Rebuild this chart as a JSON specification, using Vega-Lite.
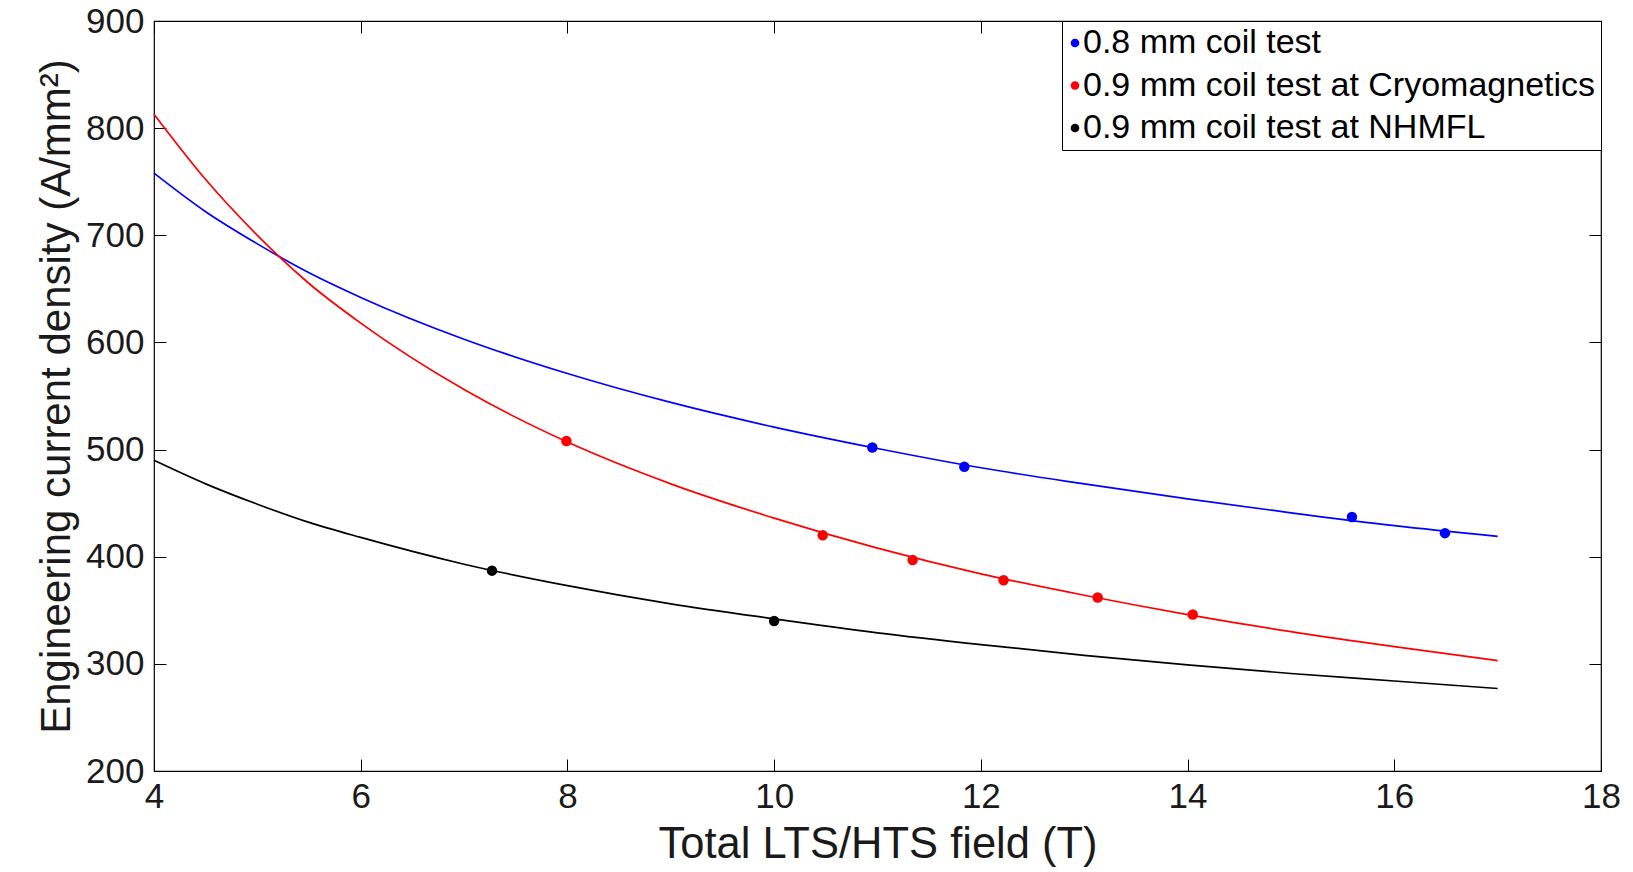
{
  "$schema": "https://vega.github.io/schema/vega-lite/v6.json",
  "autosize": {"type": "none"},
  "width": 1447,
  "height": 750,
  "padding": {"left": 154, "top": 21, "right": 32, "bottom": 101},
  "background": "white",
  "config": {
    "view": {"stroke": "#000000", "strokeWidth": 1.2},
    "font": "Liberation Sans",
    "axis": {"grid": false, "domain": false, "tickColor": "#000000", "labelColor": "#1a1a1a", "titleColor": "#1a1a1a", "labelFont": "Liberation Sans", "titleFont": "Liberation Sans", "titleFontWeight": "normal"}
  },
  "title": {"text": "0.8 mm and 0.9 mm coil test results", "fontSize": 43, "fontWeight": "bold", "font": "Liberation Sans", "color": "#000000", "baseline": "alphabetic", "offset": 16, "anchor": "middle"},
  "datasets": {
    "curves": [
      {"x": 4, "y": 758, "series": "0.8 mm coil test"},
      {"x": 4.5, "y": 722, "series": "0.8 mm coil test"},
      {"x": 5, "y": 692, "series": "0.8 mm coil test"},
      {"x": 5.5, "y": 665, "series": "0.8 mm coil test"},
      {"x": 6, "y": 642, "series": "0.8 mm coil test"},
      {"x": 7, "y": 603, "series": "0.8 mm coil test"},
      {"x": 8, "y": 571, "series": "0.8 mm coil test"},
      {"x": 9, "y": 544, "series": "0.8 mm coil test"},
      {"x": 10, "y": 521, "series": "0.8 mm coil test"},
      {"x": 11, "y": 501, "series": "0.8 mm coil test"},
      {"x": 12, "y": 483, "series": "0.8 mm coil test"},
      {"x": 13, "y": 468, "series": "0.8 mm coil test"},
      {"x": 14, "y": 454, "series": "0.8 mm coil test"},
      {"x": 15, "y": 441, "series": "0.8 mm coil test"},
      {"x": 16, "y": 429, "series": "0.8 mm coil test"},
      {"x": 17, "y": 419, "series": "0.8 mm coil test"},
      {"x": 4, "y": 813, "series": "0.9 mm coil test at Cryomagnetics"},
      {"x": 4.5, "y": 752, "series": "0.9 mm coil test at Cryomagnetics"},
      {"x": 5, "y": 700, "series": "0.9 mm coil test at Cryomagnetics"},
      {"x": 5.5, "y": 655, "series": "0.9 mm coil test at Cryomagnetics"},
      {"x": 6, "y": 618, "series": "0.9 mm coil test at Cryomagnetics"},
      {"x": 7, "y": 556, "series": "0.9 mm coil test at Cryomagnetics"},
      {"x": 8, "y": 507, "series": "0.9 mm coil test at Cryomagnetics"},
      {"x": 9, "y": 468, "series": "0.9 mm coil test at Cryomagnetics"},
      {"x": 10, "y": 436, "series": "0.9 mm coil test at Cryomagnetics"},
      {"x": 11, "y": 408, "series": "0.9 mm coil test at Cryomagnetics"},
      {"x": 12, "y": 384, "series": "0.9 mm coil test at Cryomagnetics"},
      {"x": 13, "y": 364, "series": "0.9 mm coil test at Cryomagnetics"},
      {"x": 14, "y": 346, "series": "0.9 mm coil test at Cryomagnetics"},
      {"x": 15, "y": 330, "series": "0.9 mm coil test at Cryomagnetics"},
      {"x": 16, "y": 316, "series": "0.9 mm coil test at Cryomagnetics"},
      {"x": 17, "y": 303, "series": "0.9 mm coil test at Cryomagnetics"},
      {"x": 4, "y": 490, "series": "0.9 mm coil test at NHMFL"},
      {"x": 4.5, "y": 468, "series": "0.9 mm coil test at NHMFL"},
      {"x": 5, "y": 449, "series": "0.9 mm coil test at NHMFL"},
      {"x": 5.5, "y": 432, "series": "0.9 mm coil test at NHMFL"},
      {"x": 6, "y": 418, "series": "0.9 mm coil test at NHMFL"},
      {"x": 7, "y": 393, "series": "0.9 mm coil test at NHMFL"},
      {"x": 8, "y": 373, "series": "0.9 mm coil test at NHMFL"},
      {"x": 9, "y": 356, "series": "0.9 mm coil test at NHMFL"},
      {"x": 10, "y": 342, "series": "0.9 mm coil test at NHMFL"},
      {"x": 11, "y": 329, "series": "0.9 mm coil test at NHMFL"},
      {"x": 12, "y": 318, "series": "0.9 mm coil test at NHMFL"},
      {"x": 13, "y": 308, "series": "0.9 mm coil test at NHMFL"},
      {"x": 14, "y": 299, "series": "0.9 mm coil test at NHMFL"},
      {"x": 15, "y": 291, "series": "0.9 mm coil test at NHMFL"},
      {"x": 16, "y": 284, "series": "0.9 mm coil test at NHMFL"},
      {"x": 17, "y": 277, "series": "0.9 mm coil test at NHMFL"}
    ],
    "pts": [
      {"x": 10.95, "y": 502, "series": "0.8 mm coil test"},
      {"x": 11.84, "y": 484, "series": "0.8 mm coil test"},
      {"x": 15.59, "y": 437, "series": "0.8 mm coil test"},
      {"x": 16.49, "y": 422, "series": "0.8 mm coil test"},
      {"x": 7.99, "y": 508, "series": "0.9 mm coil test at Cryomagnetics"},
      {"x": 10.47, "y": 420, "series": "0.9 mm coil test at Cryomagnetics"},
      {"x": 11.34, "y": 397, "series": "0.9 mm coil test at Cryomagnetics"},
      {"x": 12.22, "y": 378, "series": "0.9 mm coil test at Cryomagnetics"},
      {"x": 13.13, "y": 362, "series": "0.9 mm coil test at Cryomagnetics"},
      {"x": 14.05, "y": 346, "series": "0.9 mm coil test at Cryomagnetics"},
      {"x": 7.27, "y": 387, "series": "0.9 mm coil test at NHMFL"},
      {"x": 10.0, "y": 340, "series": "0.9 mm coil test at NHMFL"}
    ]
  },
  "layer": [
    {
      "data": {"name": "curves"},
      "mark": {"type": "line", "interpolate": "monotone", "strokeWidth": 1.7},
      "encoding": {
        "x": {"field": "x", "type": "quantitative", "scale": {"domain": [4, 18], "nice": false, "zero": false},
          "axis": {"orient": "bottom", "values": [4, 6, 8, 10, 12, 14, 16, 18], "title": "Total LTS/HTS field (T)", "labelFontSize": 35, "titleFontSize": 43.5, "tickSize": -12, "labelPadding": 20, "titlePadding": 9, "labelFlush": false}},
        "y": {"field": "y", "type": "quantitative", "scale": {"domain": [200, 900], "nice": false, "zero": false},
          "axis": {"orient": "left", "values": [200, 300, 400, 500, 600, 700, 800, 900], "title": "Engineering current density (A/mm²)", "labelFontSize": 35, "titleFontSize": 42, "tickSize": -12, "labelPadding": 22, "titlePadding": 7, "labelFlush": false}},
        "stroke": {"field": "series", "type": "nominal", "legend": null,
          "scale": {"domain": ["0.9 mm coil test at NHMFL", "0.8 mm coil test", "0.9 mm coil test at Cryomagnetics"], "range": ["#000000", "#0000ff", "#ff0000"]}}
      }
    },
    {
      "data": {"name": "pts"},
      "mark": {"type": "point", "filled": true, "size": 110, "opacity": 1, "shape": "circle"},
      "encoding": {
        "x": {"field": "x", "type": "quantitative",
          "axis": {"orient": "top", "values": [4, 6, 8, 10, 12, 14, 16, 18], "labels": false, "title": null, "tickSize": -12}},
        "y": {"field": "y", "type": "quantitative",
          "axis": {"orient": "right", "values": [200, 300, 400, 500, 600, 700, 800, 900], "labels": false, "title": null, "tickSize": -12}},
        "color": {"field": "series", "type": "nominal", "title": null,
          "scale": {"domain": ["0.8 mm coil test", "0.9 mm coil test at Cryomagnetics", "0.9 mm coil test at NHMFL"], "range": ["#0000ff", "#ff0000", "#000000"]},
          "legend": {"orient": "top-right", "offset": 0, "strokeColor": "#000000", "fillColor": "#ffffff", "padding": 5, "labelFontSize": 34, "labelFont": "Liberation Sans", "labelColor": "#000000", "symbolSize": 75, "symbolType": "circle", "symbolOffset": -9, "labelOffset": -9, "rowPadding": 8.5, "labelLimit": 1000}}
      }
    }
  ]
}
